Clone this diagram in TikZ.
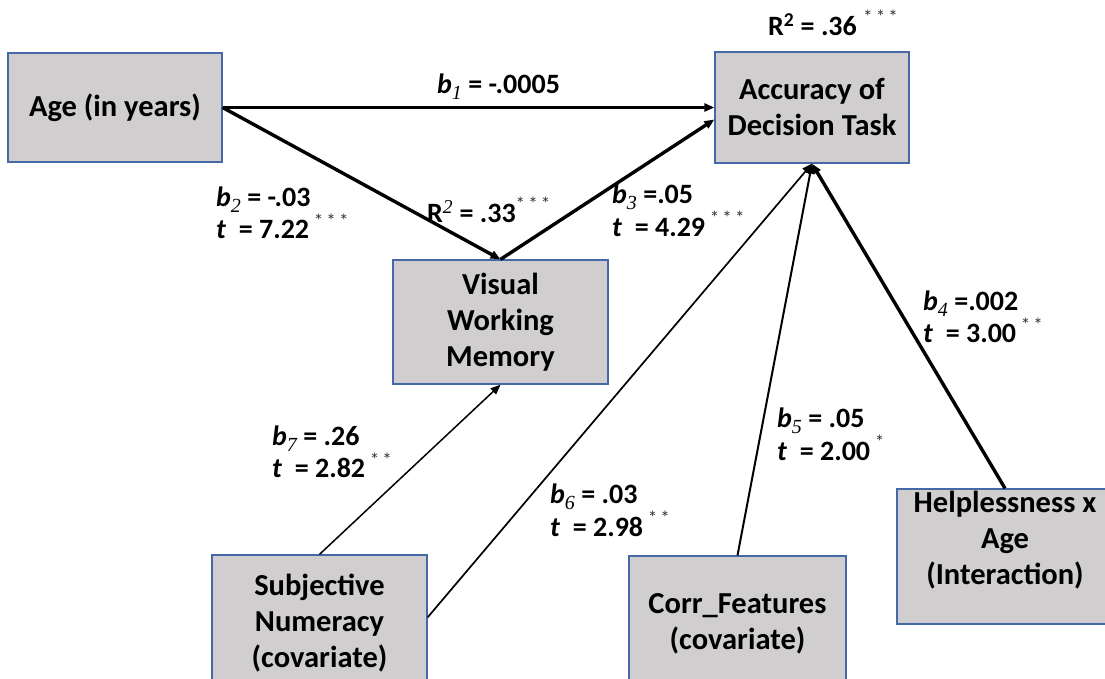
\documentclass[tikz,border=0pt]{standalone}
\usepackage{fontspec}
\setmainfont{Carlito}
\newfontfamily\subfont{Liberation Serif}
\usetikzlibrary{arrows.meta}
\definecolor{boxfill}{RGB}{208,206,206}
\definecolor{boxdraw}{RGB}{68,104,168}
\newcommand{\bb}[1]{\textit{b}\raisebox{-0.22em}{\fontsize{20}{20}\selectfont\subfont\mdseries\itshape #1}}
\newcommand{\st}[1]{\raisebox{0.42em}{\fontsize{19}{19}\selectfont\mdseries\color{black!80} #1}}
\newcommand{\teq}{\textit{t}\ \ =}
\tikzset{
  box/.style={draw=boxdraw, line width=1.3pt, fill=boxfill, inner sep=0pt, align=center,
    font=\fontsize{30.5}{36}\selectfont\bfseries},
  boxtext/.style={inner sep=0pt, align=center, font=\fontsize{30.5}{36}\selectfont\bfseries},
  lab/.style={inner sep=0pt, align=left, anchor=west, font=\fontsize{28}{30}\selectfont\bfseries},
  conn/.style={-{Triangle[length=10pt,width=8pt]}, line join=miter},
}
\begin{document}
\begin{tikzpicture}[x=1pt,y=-1pt]
\clip (0,0) rectangle (1105,678);
\fill[white] (0,0) rectangle (1105,678);
% boxes
\node[box, minimum width=214pt, minimum height=109pt] (age) at (115,107.5) {Age (in years)};
\node[box, minimum width=194pt, minimum height=111pt] (acc) at (812,107.5) {Accuracy of\\Decision Task};
\node[box, minimum width=215pt, minimum height=124pt] (vwm) at (500.5,322) {Visual\\Working\\Memory};
\node[box, minimum width=215pt, minimum height=136pt] (subj) at (319.5,623) {Subjective\\Numeracy\\(covariate)};
\node[box, minimum width=217pt, minimum height=136pt] (corr) at (737.5,624) {Corr\_Features\\(covariate)};
\node[box, minimum width=216pt, minimum height=135pt] (help) at (1005,556.5) {};
\node[boxtext] (helpT) at (1005,540) {Helplessness x\\Age\\(Interaction)};
% connectors
\draw[conn, line width=2.4pt] (age.east) -- (acc.west);
\draw[conn, line width=3.4pt] (age.east) -- (vwm.north);
\draw[conn, line width=3.4pt] (vwm.north) -- (acc.187);
\draw[conn, line width=1.5pt] (subj.north) -- (vwm.south);
\draw[conn, line width=1.7pt] (subj.3) -- (acc.south);
\draw[conn, line width=2pt] (corr.north) -- (acc.south);
\draw[conn, line width=3.4pt] (help.north) -- (acc.south);
% labels
\node[lab] (l1) at (437,87) {\bb{1} = -.0005};
\node[lab] (r36) at (768,23) {R\textsuperscript{2} = .36 \st{*\,*\,*}};
\node[lab] (r33) at (427,210) {R\textsuperscript{\subfont\mdseries\itshape 2} = .33\st{*\,*\,*}};
\node[lab] (l2) at (216,213) {\bb{2} = -.03\\\teq{} 7.22\,\st{*\,*\,*}};
\node[lab] (l3) at (612,210) {\bb{3} =.05\\\teq{} 4.29\,\st{*\,*\,*}};
\node[lab] (l4) at (923,317) {\bb{4} =.002\\\teq{} 3.00\,\st{*\,*}};
\node[lab] (l5) at (777,434) {\bb{5} = .05\\\teq{} 2.00\,\st{*}};
\node[lab] (l6) at (550,510) {\bb{6} = .03\\\teq{} 2.98\,\st{*\,*}};
\node[lab] (l7) at (272,452) {\bb{7} = .26\\\teq{} 2.82\,\st{*\,*}};
\end{tikzpicture}
\end{document}
